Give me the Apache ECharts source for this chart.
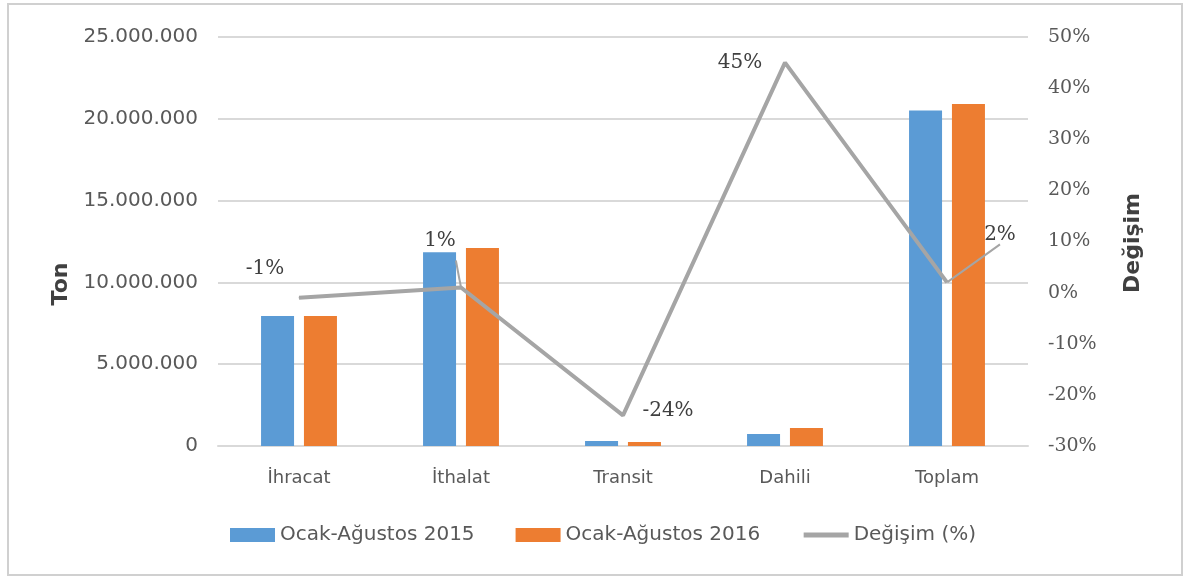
<!DOCTYPE html>
<html>
<head>
<meta charset="utf-8">
<script src="https://cdn.jsdelivr.net/npm/echarts@6/dist/echarts.min.js"></script>
<style>
  html, body { margin: 0; padding: 0; background: #fff; }
  #main { width: 1190px; height: 580px; }
</style>
</head>
<body>
<div id="main"></div>
<script>
// kategoriler ve seriler
var categories = ['İhracat', 'İthalat', 'Transit', 'Dahili', 'Toplam'];
var ton2015 = [7950000, 11850000, 300000, 730000, 20500000];
var ton2016 = [7950000, 12100000, 250000, 1100000, 20900000];
var degisim = [-1, 1, -24, 45, 2];
var seriesNames = ['Ocak-Ağustos 2015', 'Ocak-Ağustos 2016', 'Değişim (%)'];

var chart = echarts.init(document.getElementById('main'));

// label offsets from each point of the line (Excel style placement)
var labelOffsets = [[-34, -29], [-21, -47], [45, -5], [-45, 0], [53, -48]];
var withLeader = [false, true, false, false, true];

var lineData = degisim.map(function (v, i) {
  var item = { value: v, label: { position: 'inside', offset: labelOffsets[i] } };
  if (withLeader[i]) {
    item.labelLine = { show: true, lineStyle: { color: '#a5a5a5', width: 2 } };
  }
  return item;
});

function dots(v) {
  return String(v).replace(/\B(?=(\d{3})+(?!\d))/g, '.');
}

chart.setOption({
  animation: false,
  grid: { left: 218, right: 162, top: 37, bottom: 134 },
  legend: {
    bottom: 30,
    left: 225,
    itemWidth: 45,
    itemHeight: 14,
    itemGap: 41,
    textStyle: { fontFamily: 'DejaVu Sans', fontSize: 20, color: '#595959' },
    data: [
      { name: seriesNames[0], icon: 'rect' },
      { name: seriesNames[1], icon: 'rect' },
      { name: seriesNames[2], itemStyle: { opacity: 0 }, lineStyle: { width: 5, color: '#a5a5a5' } }
    ]
  },
  xAxis: {
    type: 'category',
    data: categories,
    axisTick: { show: false },
    axisLine: { lineStyle: { color: '#d9d9d9', width: 2 } },
    axisLabel: { color: '#595959', fontFamily: 'DejaVu Sans', fontSize: 18, margin: 23 }
  },
  yAxis: [
    {
      type: 'value',
      min: 0, max: 25000000, interval: 5000000,
      axisLabel: {
        color: '#595959', fontFamily: 'DejaVu Sans', fontSize: 20, margin: 20,
        formatter: dots
      },
      splitLine: { lineStyle: { color: '#d9d9d9', width: 2 } },
      axisLine: { show: false },
      axisTick: { show: false }
    },
    {
      type: 'value',
      min: -30, max: 50, interval: 10,
      position: 'right',
      axisLabel: {
        color: '#595959', fontFamily: 'DejaVu Serif', fontSize: 19, margin: 20,
        formatter: function (v) { return v + '%'; }
      },
      splitLine: { show: false },
      axisLine: { show: false },
      axisTick: { show: false }
    }
  ],
  series: [
    {
      name: seriesNames[0],
      type: 'bar',
      data: ton2015,
      barWidth: 33,
      barGap: '30%',
      itemStyle: { color: '#5b9bd5' }
    },
    {
      name: seriesNames[1],
      type: 'bar',
      data: ton2016,
      barWidth: 33,
      itemStyle: { color: '#ed7d31' }
    },
    {
      name: seriesNames[2],
      type: 'line',
      yAxisIndex: 1,
      data: lineData,
      symbol: 'circle',
      symbolSize: 1,
      showSymbol: true,
      lineStyle: { color: '#a5a5a5', width: 4 },
      itemStyle: { color: '#a5a5a5' },
      label: {
        show: true,
        color: '#404040',
        fontFamily: 'DejaVu Serif',
        fontSize: 20,
        formatter: function (p) { return p.value + '%'; }
      }
    }
  ],
  graphic: [
    {
      type: 'rect',
      shape: { x: 8, y: 4, width: 1174, height: 571 },
      style: { fill: 'none', stroke: '#d0d0d0', lineWidth: 2 }
    },
    {
      type: 'text',
      x: 61, y: 284,
      rotation: Math.PI / 2,
      style: {
        text: 'Ton', fill: '#404040', fontFamily: 'DejaVu Sans', fontSize: 22, fontWeight: 'bold',
        textAlign: 'center', textVerticalAlign: 'middle'
      }
    },
    {
      type: 'text',
      x: 1133, y: 243,
      rotation: Math.PI / 2,
      style: {
        text: 'Değişim', fill: '#404040', fontFamily: 'DejaVu Sans', fontSize: 22, fontWeight: 'bold',
        textAlign: 'center', textVerticalAlign: 'middle'
      }
    }
  ]
});
</script>
</body>
</html>
